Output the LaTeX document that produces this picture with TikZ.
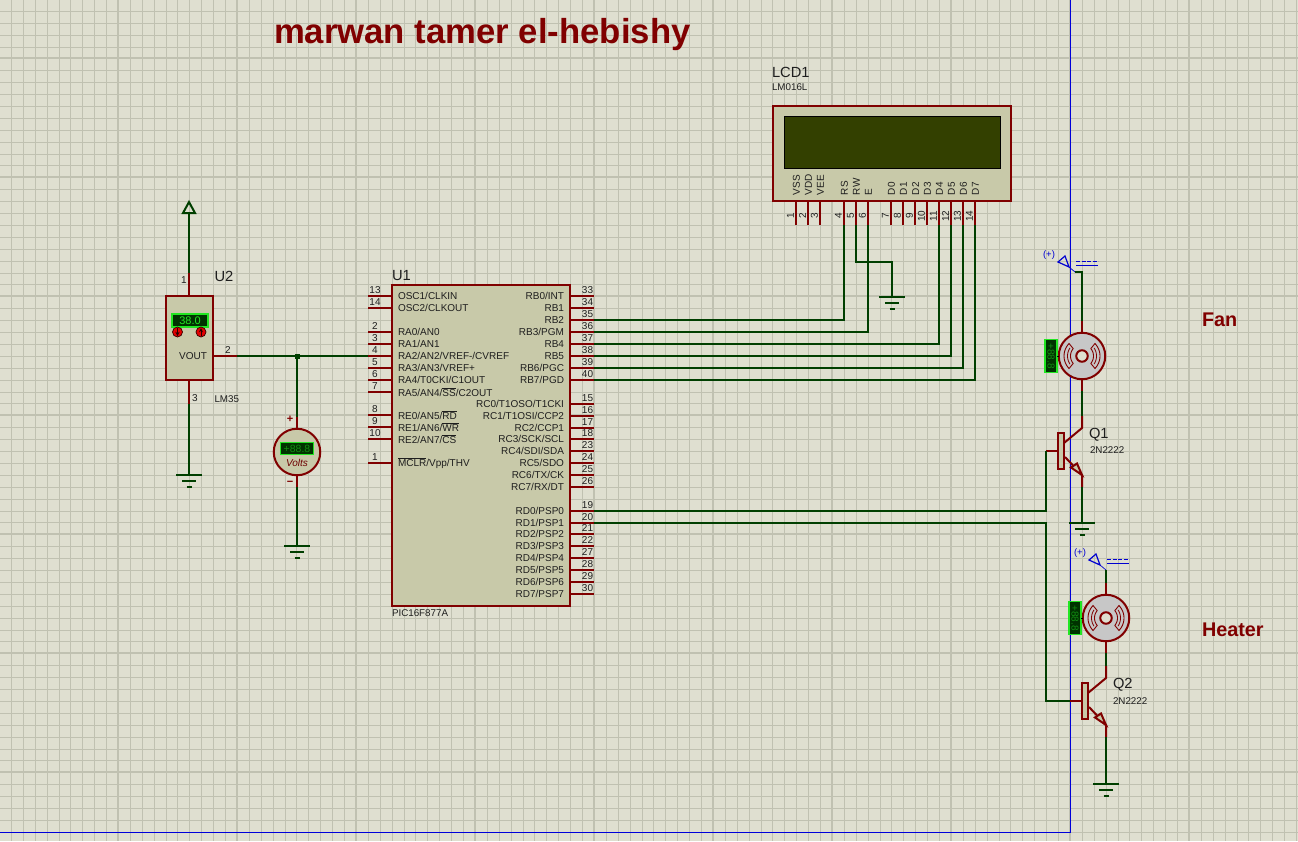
\documentclass[tikz,border=0pt]{standalone}
\usepackage{fontspec}
\usetikzlibrary{shapes.geometric}
\setmainfont{Liberation Sans}
\definecolor{bg}{HTML}{DFDFD0}
\definecolor{gridc}{HTML}{C0C1B1}
\definecolor{dred}{HTML}{800000}
\definecolor{dgreen}{HTML}{003F00}
\definecolor{chip}{HTML}{C8C9A9}
\definecolor{txt}{HTML}{1E1E1E}
\definecolor{blueln}{HTML}{0000D0}
\definecolor{lit}{HTML}{22E622}
\definecolor{scr}{HTML}{003300}
\definecolor{lcdg}{HTML}{334000}
\newcommand{\ol}[1]{$\overline{\mbox{#1}}$}
\tikzset{
  x=1pt,y=-1pt,
  every node/.style={outer sep=0pt},
  pinln/.style={draw=dred,line width=2pt},
  wire/.style={draw=dgreen,line width=2pt},
  body/.style={draw=dred,line width=2pt,fill=chip},
  label/.style={inner sep=0pt,text=txt,font=\fontsize{10}{10}\selectfont},
  pinnum/.style={inner sep=0pt,text=txt,font=\fontsize{10}{10}\selectfont},
  refname/.style={inner sep=0pt,text=txt,font=\fontsize{14.7}{15}\selectfont,anchor=west},
  valname/.style={inner sep=0pt,text=txt,font=\fontsize{9.8}{10}\selectfont,anchor=west},
  head/.style={inner sep=0pt,text=dred,font=\bfseries\fontsize{19.8}{20}\selectfont,anchor=west},
  disp/.style={draw=lit,line width=1.2pt,fill=scr},
  probe/.style={draw=blueln,line width=1.2pt},
}
\newcommand{\lpin}[3]{%
  \coordinate (u1p#1) at (368,#2);
  \draw[pinln] (368,#2) -- (392,#2);
  \node[pinnum] at (375,#2-5.6) {#1};
  \node[label,anchor=west] at (398,#2+.3) {#3};}
\newcommand{\rpin}[3]{%
  \coordinate (u1p#1) at (594,#2);
  \draw[pinln] (570,#2) -- (594,#2);
  \node[pinnum] at (587.5,#2-5.6) {#1};
  \node[label,anchor=east] at (564,#2+.3) {#3};}
\newcommand{\lcdpin}[3]{%
  \coordinate (lcdp#1) at (#2,225);
  \draw[pinln] (#2,201) -- (#2,225);
  \node[pinnum,rotate=90] at (#2-5.5,216) {#1};
  \node[label,rotate=90,anchor=west] at (#2+.5,195) {#3};}
\newcommand{\gnd}[3]{%
  \coordinate (#1) at (#2,#3);
  \draw[draw=dgreen,line width=2pt] (#2-13,#3) -- (#2+13,#3)
    (#2-7,#3+6) -- (#2+7,#3+6) (#2-2.5,#3+12) -- (#2+2.5,#3+12);}
\newcommand{\fan}[4]{% name,x,y,display x
  \node[circle,draw=dred,line width=2pt,fill=black!22,minimum size=46.5pt,inner sep=0pt] (#1) at (#2,#3) {};
  \begin{scope}[shift={(#2,#3)}]
    \foreach \a in {180,0}{
      \draw[dred,line width=.9pt] plot[domain=\a-44:\a+44,samples=15,smooth] ({18*cos(\x)},{18*sin(\x)})
        -- plot[domain=\a+40:\a-40,samples=15,smooth] ({11.5*cos(\x)},{11.5*sin(\x)}) -- cycle;
      \draw[dred,line width=.8pt] plot[domain=\a-34:\a+34,samples=11,smooth] ({14.5*cos(\x)},{14.5*sin(\x)});
    }
  \end{scope}
  \node[circle,draw=dred,line width=2pt,fill=bg,minimum size=11.5pt,inner sep=0pt] at (#2,#3) {};
  \node[draw=lit,line width=1.2pt,fill=scr,minimum width=12pt,minimum height=33pt,inner sep=0pt,anchor=east] (#1d) at (#4,#3) {};
  \node[rotate=-90,text=lit!50!scr,inner sep=0pt,font=\fontsize{10}{10}\selectfont] at (#1d) {+88.8};
  \draw[black,line width=.6pt] (#1d.east) -- (#1.west);
  \draw[pinln] (#1.north) -- ++(0,-12) coordinate (#1t);
  \draw[pinln] (#1.south) -- ++(0,12) coordinate (#1b);}
\newcommand{\npn}[3]{% name, x of collector, y of base
  \coordinate (#1c) at (#2,#3-35);
  \coordinate (#1e) at (#2,#3+36);
  \coordinate (#1b) at (#2-36,#3);
  \draw[pinln] (#1c) -- (#2,#3-23) -- (#2-18,#3-8);
  \draw[pinln] (#2-17,#3+6) -- (#2,#3+24) -- (#1e);
  \draw[draw=dred,line width=2pt,line join=miter,fill=chip] (#2-11,#3+16.5) -- (#2-5,#3+12.5) -- (#2,#3+24) -- cycle;
  \draw[pinln] (#1b) -- (#2-24,#3);
  \node[draw=dred,line width=2pt,fill=chip,minimum width=6pt,minimum height=36pt,inner sep=0pt] (#1box) at (#2-21,#3) {};}
\newcommand{\prb}[3]{% name, x of wire end, y of wire end
  \coordinate (#1) at (#2,#3);
  \draw[probe] (#2-17,#3-10) -- (#2-10,#3-16) -- (#2-6,#3-5) -- cycle;
  \draw[blueln,line width=.7pt] (#2-6,#3-5) -- (#2,#3);
  \draw[blueln,line width=1pt,dash pattern=on 4pt off 1.5pt] (#2+1,#3-10.5) -- (#2+23,#3-10.5);
  \draw[blueln,line width=1pt] (#2+1,#3-6.5) -- (#2+23,#3-6.5);
  \node[inner sep=0pt,text=blueln,font=\fontsize{9.5}{10}\selectfont] at (#2-26,#3-16.5) {(+)};}
\begin{document}
\begin{tikzpicture}
\useasboundingbox (0,0) rectangle (1298,841);
\fill[bg] (0,0) rectangle (1298,841);
% grid
\foreach \i in {-10,...,99}{ \pgfmathsetmacro\v{floor(118.5+11.9*\i)+.5}\draw[gridc,line width=1pt] (\v,0) -- (\v,841); }
\foreach \i in {-4,...,66}{ \pgfmathsetmacro\v{floor(58.9+11.9*\i)+.5}\draw[gridc,line width=1pt] (0,\v) -- (1298,\v); }
\foreach \i in {0,...,10}{ \pgfmathsetmacro\v{floor(118.5+119*\i)}\draw[gridc,line width=2pt] (\v,0) -- (\v,841); }
\foreach \i in {0,...,6}{ \pgfmathsetmacro\v{floor(58.9+119*\i)}\draw[gridc,line width=2pt] (0,\v) -- (1298,\v); }
% sheet border
\draw[blue!85!black,line width=1pt] (0,832.5) -- (1070.5,832.5) -- (1070.5,0);
% title
\node[inner sep=0pt,text=dred,font=\bfseries\fontsize{34.7}{36}\selectfont,anchor=west] (title) at (274,35) {marwan tamer el-hebishy};
\node[head] (fan) at (1202,320) {Fan};
\node[head] (heater) at (1202,630) {Heater};
% U1
\node[body,anchor=north west,minimum width=178pt,minimum height=321pt,inner sep=0pt] (u1) at (392,285) {};
\node[refname] at (392,275.5) {U1};
\node[valname] at (392,613.5) {PIC16F877A};
\lpin{13}{296}{OSC1/CLKIN}
\lpin{14}{308}{OSC2/CLKOUT}
\lpin{2}{332}{RA0/AN0}
\lpin{3}{344}{RA1/AN1}
\lpin{4}{356}{RA2/AN2/VREF-/CVREF}
\lpin{5}{368}{RA3/AN3/VREF+}
\lpin{6}{380}{RA4/T0CKI/C1OUT}
\lpin{7}{392}{RA5/AN4/\ol{SS}/C2OUT}
\lpin{8}{415}{RE0/AN5/\ol{RD}}
\lpin{9}{427}{RE1/AN6/\ol{WR}}
\lpin{10}{439}{RE2/AN7/\ol{CS}}
\lpin{1}{463}{\ol{MCLR}/Vpp/THV}
\rpin{33}{296}{RB0/INT}
\rpin{34}{308}{RB1}
\rpin{35}{320}{RB2}
\rpin{36}{332}{RB3/PGM}
\rpin{37}{344}{RB4}
\rpin{38}{356}{RB5}
\rpin{39}{368}{RB6/PGC}
\rpin{40}{380}{RB7/PGD}
\rpin{15}{404}{RC0/T1OSO/T1CKI}
\rpin{16}{416}{RC1/T1OSI/CCP2}
\rpin{17}{428}{RC2/CCP1}
\rpin{18}{439}{RC3/SCK/SCL}
\rpin{23}{451}{RC4/SDI/SDA}
\rpin{24}{463}{RC5/SDO}
\rpin{25}{475}{RC6/TX/CK}
\rpin{26}{487}{RC7/RX/DT}
\rpin{19}{511}{RD0/PSP0}
\rpin{20}{523}{RD1/PSP1}
\rpin{21}{534}{RD2/PSP2}
\rpin{22}{546}{RD3/PSP3}
\rpin{27}{558}{RD4/PSP4}
\rpin{28}{570}{RD5/PSP5}
\rpin{29}{582}{RD6/PSP6}
\rpin{30}{594}{RD7/PSP7}
% LCD
\node[body,anchor=north west,minimum width=238pt,minimum height=95pt,inner sep=0pt] (lcd) at (773,106) {};
\node[draw=black,line width=.8pt,fill=lcdg,anchor=north west,minimum width=216pt,minimum height=52pt,inner sep=0pt] (lcdscr) at (784,116) {};
\node[refname] at (772,72) {LCD1};
\node[valname] at (772,87.5) {LM016L};
\lcdpin{1}{796}{VSS}
\lcdpin{2}{808}{VDD}
\lcdpin{3}{820}{VEE}
\lcdpin{4}{844}{RS}
\lcdpin{5}{856}{RW}
\lcdpin{6}{868}{E}
\lcdpin{7}{891}{D0}
\lcdpin{8}{903}{D1}
\lcdpin{9}{915}{D2}
\lcdpin{10}{927}{D3}
\lcdpin{11}{939}{D4}
\lcdpin{12}{951}{D5}
\lcdpin{13}{963}{D6}
\lcdpin{14}{975}{D7}
\gnd{gl}{892}{297}
\draw[wire] (lcdp4) |- (u1p35);
\draw[wire] (lcdp6) |- (u1p36);
\draw[wire] (lcdp11) |- (u1p37);
\draw[wire] (lcdp12) |- (u1p38);
\draw[wire] (lcdp13) |- (u1p39);
\draw[wire] (lcdp14) |- (u1p40);
\draw[wire] (lcdp5) |- (892,262) -- (gl);
% U2
\node[body,anchor=north west,minimum width=47pt,minimum height=84pt,inner sep=0pt] (u2) at (166,296) {};
\node[refname] at (214.5,276) {U2};
\node[valname] at (214.5,399) {LM35};
\node[label,anchor=east] at (207,356.3) {VOUT};
\node[disp,anchor=north west,minimum width=36pt,minimum height=13pt,inner sep=0pt,text=lit,font=\fontsize{11}{11}\selectfont] (u2d) at (172,314) {38.0};
\foreach \xx/\nm/\ya/\yb in {177.5/bd/328/336,201/bu/336/328}{
  \node[circle,draw=black!60!dred,line width=.7pt,fill=red!90!black,minimum size=10pt,inner sep=0pt] (\nm) at (\xx,332) {};
  \draw[black!70!dred,line width=.9pt,-stealth] (\xx,\ya) -- (\xx,\yb);
}
\coordinate (u2p1) at (189,273);
\coordinate (u2p2) at (237,356);
\coordinate (u2p3) at (189,404);
\draw[pinln] (189,296) -- (u2p1);
\draw[pinln] (213,356) -- (u2p2);
\draw[pinln] (189,380) -- (u2p3);
\node[pinnum] at (184,280) {1};
\node[pinnum] at (228,350) {2};
\node[pinnum] at (195,398.5) {3};
\draw[wire] (183,213) -- (189,202) -- (195,213) -- cycle;
\coordinate (pwr) at (189,213);
\draw[wire] (pwr) -- (u2p1);
\gnd{g1}{189}{475}
\draw[wire] (u2p3) -- (g1);
% Voltmeter
\node[circle,draw=dred,line width=2pt,fill=chip,minimum size=46.5pt,inner sep=0pt] (vm) at (297,452) {};
\node[disp,minimum width=33pt,minimum height=12pt,inner sep=0pt,text=lit!50!scr,font=\fontsize{10.5}{10}\selectfont] (vmd) at (297,448.5) {+88.8};
\node[inner sep=0pt,text=dred!85!black,font=\itshape\fontsize{10}{10}\selectfont] at (297,463) {Volts};
\draw[pinln] (vm.north) -- ++(0,-12) coordinate (vmt);
\draw[pinln] (vm.south) -- ++(0,12) coordinate (vmb);
\node[inner sep=0pt,text=dred,font=\bfseries\fontsize{11}{11}\selectfont] at (290,419) {+};
\node[inner sep=0pt,text=dred,font=\bfseries\fontsize{11}{11}\selectfont] at (290,483) {−};
\gnd{g2}{297}{546}
\draw[wire] (vmb) -- (g2);
\coordinate (jn) at (297,356);
\draw[wire] (u2p2) -- (jn) -- (u1p4);
\draw[wire] (jn) -- (vmt);
\fill[dgreen] (294.5,353.5) rectangle (299.5,358.5);
% Fan + Q1
\fan{m1}{1082}{356}{1057}
\prb{pa}{1075}{272}
\npn{qa}{1082}{451}
\node[refname] at (1089,435) {Q1};
\node[valname] at (1090,450) {2N2222};
\draw[wire] (pa) -| (m1t);
\draw[wire] (m1b) -- (qac);
\gnd{g3}{1082}{523}
\draw[wire] (qae) -- (g3);
\draw[wire] (u1p19) -| (1046,451) -- (qab);
% Heater + Q2
\fan{m2}{1106}{618}{1081}
\prb{pb}{1106}{570}
\npn{qb}{1106}{701}
\node[refname] at (1113,685) {Q2};
\node[valname] at (1113,701) {2N2222};
\draw[wire] (pb) -- (m2t);
\draw[wire] (m2b) -- (qbc);
\gnd{g4}{1106}{784}
\draw[wire] (qbe) -- (g4);
\draw[wire] (u1p20) -| (1046,701) -- (qbb);
\end{tikzpicture}
\end{document}
